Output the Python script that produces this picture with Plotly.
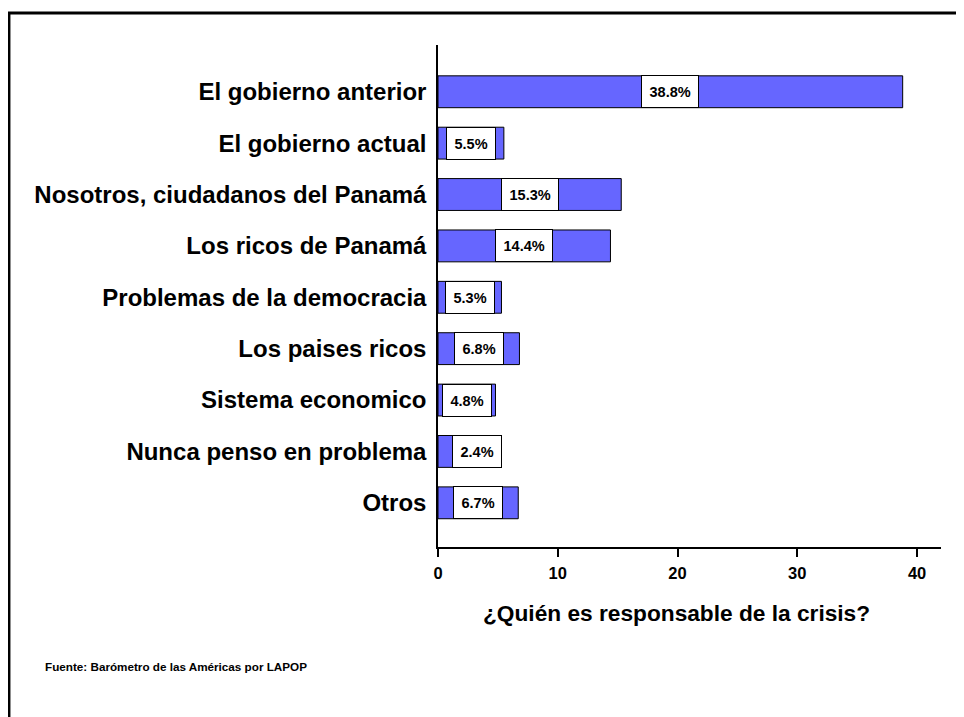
import plotly.graph_objects as go

# ---------- data ----------
categorias = [
    "El gobierno anterior",
    "El gobierno actual",
    "Nosotros, ciudadanos del Panamá",
    "Los ricos de Panamá",
    "Problemas de la democracia",
    "Los paises ricos",
    "Sistema economico",
    "Nunca penso en problema",
    "Otros",
]
porcentajes = [38.8, 5.5, 15.3, 14.4, 5.3, 6.8, 4.8, 2.4, 6.7]
x_ticks = [0, 10, 20, 30, 40]

titulo_x = "¿Quién es responsable de la crisis?"
fuente = "Fuente: Barómetro de las Américas por LAPOP"

FONT = "Liberation Sans, Arial, sans-serif"

# ---------- bars ----------
fig = go.Figure()
fig.add_trace(go.Bar(
    x=porcentajes,
    y=categorias,
    orientation="h",
    width=0.62,
    marker=dict(color="#6666FF", line=dict(color="black", width=1)),
    hoverinfo="skip",
    showlegend=False,
))

# value labels in white boxes, centred on the bar (pushed right if too short)
for cat, v in zip(categorias, porcentajes):
    xpos = v / 2 if v / 2 > 2.2 else 3.25
    fig.add_annotation(
        x=xpos, y=cat, xref="x", yref="y",
        text="<b>{:.1f}%</b>".format(v),
        showarrow=False,
        font=dict(family=FONT, size=14.5, color="black"),
        bgcolor="white", bordercolor="black", borderwidth=1, borderpad=7.5,
    )

# axis title and source
fig.add_annotation(
    x=0.475, y=-0.161, xref="paper", yref="paper",
    text="<b>" + titulo_x + "</b>", showarrow=False,
    font=dict(family=FONT, size=22.7, color="black"),
)
fig.add_annotation(
    x=-0.785, y=-0.255, xref="paper", yref="paper", xanchor="left",
    text="<b>" + fuente + "</b>", showarrow=False,
    font=dict(family=FONT, size=11.7, color="black"),
)

# outer frame (runs off the right and bottom edge)
fig.add_shape(
    type="rect", xref="paper", yref="paper",
    x0=-0.853, x1=1.1, y0=-0.4, y1=1.0637,
    line=dict(color="black", width=3), fillcolor="rgba(0,0,0,0)",
)

# page has an 8px body margin, so the figure is 8px smaller and shifted up/left
fig.update_layout(
    width=956, height=709,
    margin=dict(l=430, r=23, t=37, b=170),
    paper_bgcolor="white", plot_bgcolor="white",
    font=dict(family=FONT, color="black"),
    xaxis=dict(
        range=[0, 42], tickvals=x_ticks,
        ticktext=["<b>{}</b>".format(t) for t in x_ticks],
        showline=True, linecolor="black", linewidth=1.5,
        ticks="outside", ticklen=8, tickcolor="black", tickwidth=1.5,
        showgrid=False, zeroline=False,
        ticklabelstandoff=2,
        tickfont=dict(family=FONT, size=16.5, color="black"),
    ),
    yaxis=dict(
        categoryorder="array", categoryarray=categorias,
        range=[8.86, -0.91],
        tickvals=categorias,
        ticktext=["<b>" + c + "</b>" for c in categorias],
        showline=True, linecolor="black", linewidth=1.5,
        ticks="", showgrid=False, zeroline=False,
        ticklabelstandoff=5,
        tickfont=dict(family=FONT, size=24, color="black"),
    ),
)

fig.write_html("out.html")
